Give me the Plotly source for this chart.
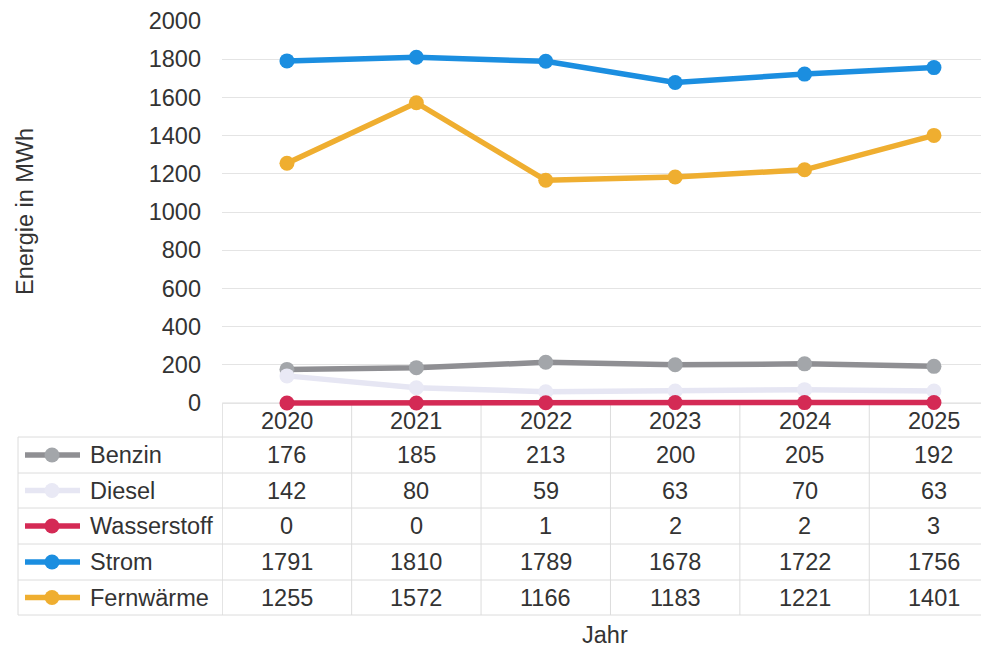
import plotly.graph_objects as go

years = ["2020", "2021", "2022", "2023", "2024", "2025"]
series_names = ["Benzin", "Diesel", "Wasserstoff", "Strom", "Fernwärme"]
benzin = [176, 185, 213, 200, 205, 192]
diesel = [142, 80, 59, 63, 70, 63]
wasserstoff = [0, 0, 1, 2, 2, 3]
strom = [1791, 1810, 1789, 1678, 1722, 1756]
fernwaerme = [1255, 1572, 1166, 1183, 1221, 1401]
y_ticks = [0, 200, 400, 600, 800, 1000, 1200, 1400, 1600, 1800, 2000]

series_values = [benzin, diesel, wasserstoff, strom, fernwaerme]
line_colors = ["#8f8f93", "#e6e6f3", "#d42a55", "#1b8ee0", "#efae30"]
marker_colors = ["#a3a6aa", "#e9e9f5", "#d42a55", "#1b8ee0", "#efae30"]

W, H = 989, 647
OFF = 8            # page body offset
L = 222 - OFF      # left margin so plot area starts at screen x=222
FONT = "Liberation Sans, Arial, sans-serif"
FS = 23.5
TXT = "#333333"
GRID = "#e4e4e4"
TGRID = "#dcdcdc"


def px(x):
    # screen x -> paper x
    return (x - OFF - L) / (W - L)


def py(y):
    # screen y -> paper y
    return (H - (y - OFF)) / H


step = 129.4
x_lo = -0.502
x_hi = x_lo + (W - L) / step

# y scale: 0 at screen 403, 2000 at screen 21; extend a bit below zero so the zero line is not clipped
y_top_px, y_zero_px = 21, 403
ppu = (y_zero_px - y_top_px) / 2000.0
y_lo = -25
y_bottom_px = y_zero_px + (-y_lo) * ppu

xs = list(range(len(years)))
fig = go.Figure()
for name, vals, lc, mc in zip(series_names, series_values, line_colors, marker_colors):
    fig.add_trace(go.Scatter(
        x=xs, y=vals, name=name, mode="lines+markers",
        line=dict(color=lc, width=5.5),
        marker=dict(color=mc, size=15),
        cliponaxis=False, showlegend=False,
    ))

shapes = []
annotations = []

row_lines = [437, 473, 508, 544, 580, 615]
header_top = 403
table_left = 18

shapes.append(dict(type="line", xref="x", yref="paper", x0=-0.5, x1=len(years) - 0.5 + 0.6,
                   y0=py(header_top), y1=py(header_top), line=dict(color=TGRID, width=1), layer="below"))
for r in row_lines:
    shapes.append(dict(type="line", xref="paper", yref="paper", x0=px(table_left), x1=px(1000),
                       y0=py(r), y1=py(r), line=dict(color=TGRID, width=1)))
for i in range(len(years) + 1):
    shapes.append(dict(type="line", xref="x", yref="paper", x0=i - 0.5, x1=i - 0.5,
                       y0=py(header_top), y1=py(row_lines[-1]), line=dict(color=TGRID, width=1),
                       layer="below"))
shapes.append(dict(type="line", xref="paper", yref="paper", x0=px(table_left), x1=px(table_left),
                   y0=py(row_lines[0]), y1=py(row_lines[-1]), line=dict(color=TGRID, width=1)))

hc = (header_top + row_lines[0]) / 2 + 1
for i, yr in enumerate(years):
    annotations.append(dict(x=i, y=py(hc), xref="x", yref="paper", text=yr, showarrow=False,
                            font=dict(size=FS, color=TXT, family=FONT), xanchor="center", yanchor="middle"))

for k, (name, vals, lc, mc) in enumerate(zip(series_names, series_values, line_colors, marker_colors)):
    cy = (row_lines[k] + row_lines[k + 1]) / 2
    for i, v in enumerate(vals):
        annotations.append(dict(x=i, y=py(cy), xref="x", yref="paper", text=str(v), showarrow=False,
                                font=dict(size=FS, color=TXT, family=FONT), xanchor="center", yanchor="middle"))
    annotations.append(dict(x=px(88), y=py(cy), xref="paper", yref="paper", text=name, showarrow=False,
                            font=dict(size=FS, color=TXT, family=FONT), xanchor="left", yanchor="middle"))
    shapes.append(dict(type="line", xref="paper", yref="paper", x0=px(25), x1=px(80),
                       y0=py(cy), y1=py(cy), line=dict(color=lc, width=5.5)))
    shapes.append(dict(type="circle", xref="paper", yref="paper", xsizemode="pixel", ysizemode="pixel",
                       xanchor=px(52), yanchor=py(cy), x0=-7.5, x1=7.5, y0=-7.5, y1=7.5,
                       fillcolor=mc, line=dict(color=mc, width=0)))

annotations.append(dict(x=px(605), y=py(635), xref="paper", yref="paper", text="Jahr", showarrow=False,
                        font=dict(size=FS, color=TXT, family=FONT), xanchor="center", yanchor="middle"))
annotations.append(dict(x=px(25), y=py(212), xref="paper", yref="paper", text="Energie in MWh", showarrow=False,
                        textangle=-90, font=dict(size=FS, color=TXT, family=FONT),
                        xanchor="center", yanchor="middle"))

fig.update_layout(
    template="none",
    width=W, height=H,
    margin=dict(l=L, r=0, t=0, b=0, pad=0, autoexpand=False),
    paper_bgcolor="white", plot_bgcolor="white",
    font=dict(family=FONT, size=FS, color=TXT),
    showlegend=False,
    shapes=shapes, annotations=annotations,
    xaxis=dict(range=[x_lo, x_hi], showticklabels=False, showgrid=False, zeroline=False,
               showline=False, ticks="", automargin=False),
    yaxis=dict(range=[y_lo, 2000], domain=[py(y_bottom_px), py(y_top_px)], tickvals=y_ticks,
               ticktext=[str(t) for t in y_ticks], showgrid=True, gridcolor=GRID, gridwidth=1,
               zeroline=False, showline=False, ticks="", ticklabelstandoff=20, automargin=False,
               tickfont=dict(size=FS, color=TXT, family=FONT)),
)

fig.write_html("out.html")
